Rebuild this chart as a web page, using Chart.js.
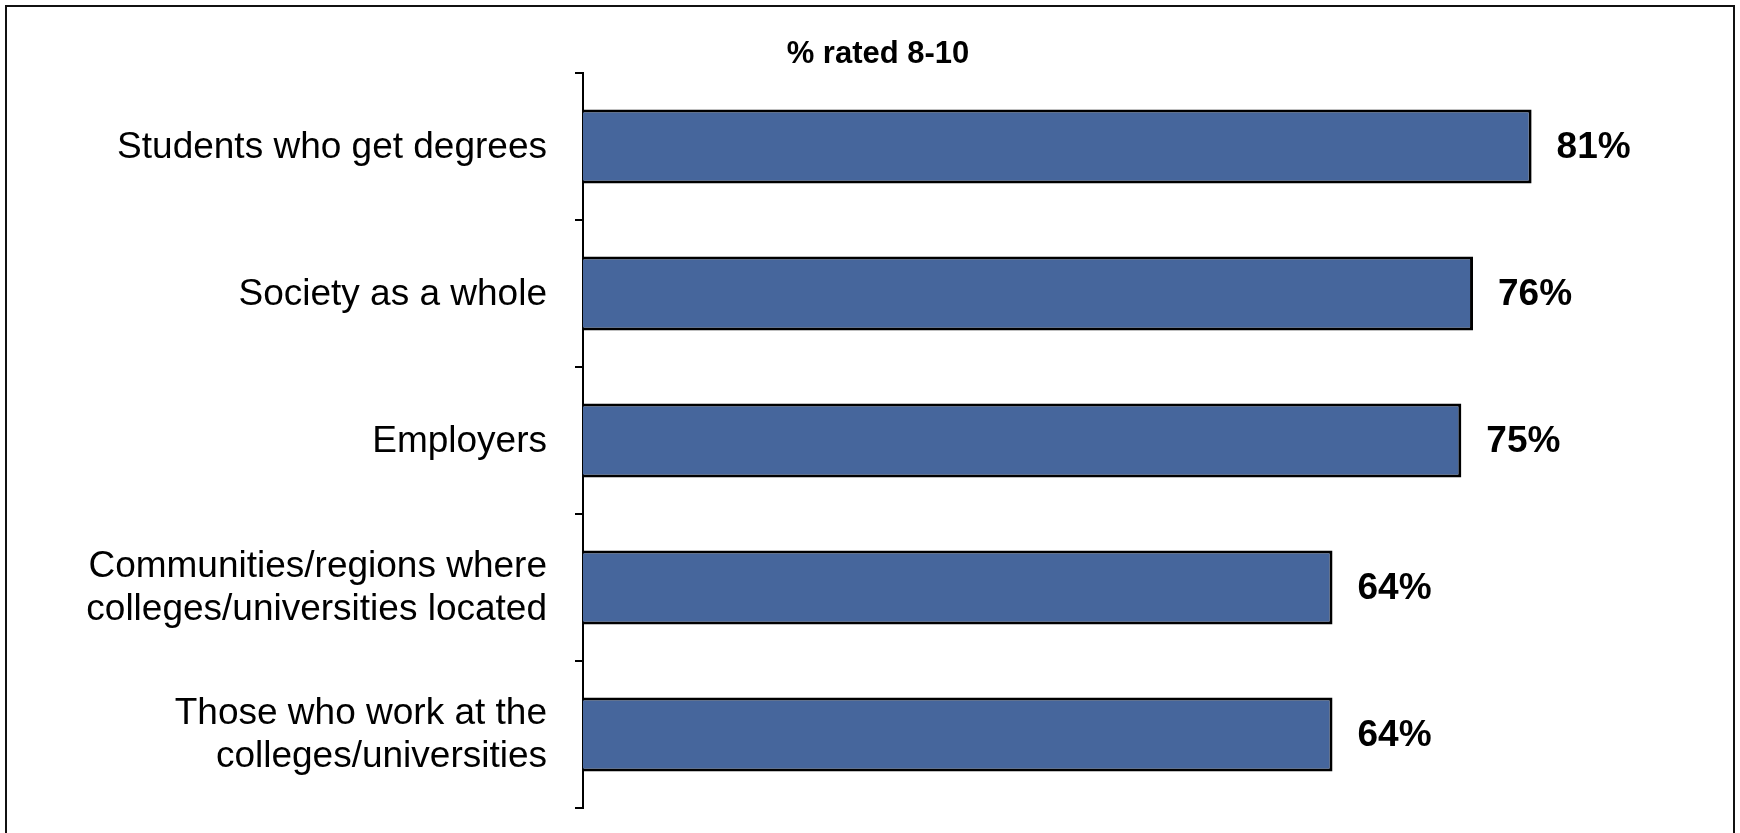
<!DOCTYPE html>
<html>
<head>
<meta charset="utf-8">
<script src="https://cdn.jsdelivr.net/npm/chart.js@4/dist/chart.umd.min.js"></script>
<style>
  html, body { margin: 0; padding: 0; background: #fff; overflow: hidden; }
  #wrap { position: relative; width: 1740px; height: 833px; }
  #frame {
    position: absolute; left: 5px; top: 5px; width: 1730px; height: 900px;
    border: 2px solid #111; box-sizing: border-box; pointer-events: none;
  }
</style>
</head>
<body>
<div id="wrap">
  <canvas id="chart" width="1740" height="833"></canvas>
  <div id="frame"></div>
</div>
<script>
// Datos del gráfico
const categories = [
    "Students who get degrees",
    "Society as a whole",
    "Employers",
    ["Communities/regions where", "colleges/universities located"],
    ["Those who work at the", "colleges/universities"],
];
const ratedValues = [81, 76, 75, 64, 64];
const chartTitle = "% rated 8-10";

const FONT = "'Liberation Sans', Arial, sans-serif";

// Título y etiquetas de valor al final de cada barra
const valueLabels = {
    id: "valueLabels",
    afterDatasetsDraw(chart) {
        const ctx = chart.ctx;
        const meta = chart.getDatasetMeta(0);
        ctx.save();
        ctx.fillStyle = "#000";
        ctx.textBaseline = "middle";

        ctx.font = "bold 31px " + FONT;
        ctx.textAlign = "center";
        ctx.fillText(chartTitle, 878, 54);

        ctx.font = "bold 37px " + FONT;
        ctx.textAlign = "left";
        meta.data.forEach((bar, i) => {
            ctx.fillText(ratedValues[i] + "%", bar.x + 25, bar.y + 1);
        });
        ctx.restore();
    },
};

new Chart(document.getElementById("chart").getContext("2d"), {
    type: "bar",
    data: {
        labels: categories,
        datasets: [{
            data: ratedValues,
            backgroundColor: "#46669C",
            borderColor: "#000",
            borderWidth: 3,
            borderSkipped: "start",
            categoryPercentage: 1,
            barPercentage: 0.505,
        }],
    },
    options: {
        indexAxis: "y",
        responsive: false,
        animation: false,
        layout: { padding: { left: 0, right: 103, top: 73, bottom: 25 } },
        plugins: {
            legend: { display: false },
            tooltip: { enabled: false },
            title: { display: false },
        },
        scales: {
            x: {
                display: false,
                min: 0,
                max: 90,
            },
            y: {
                afterFit(scale) {
                    scale.width = 583;
                    scale.paddingTop = 0;
                    scale.paddingBottom = 0;
                },
                border: { display: true, color: "#000", width: 2 },
                grid: {
                    drawOnChartArea: false,
                    drawTicks: true,
                    tickLength: 8,
                    color: "#000",
                    lineWidth: 2,
                    offset: true,
                },
                ticks: {
                    color: "#000",
                    padding: 28,
                    labelOffset: 1,
                    font: { family: FONT, size: 37, lineHeight: 1.15 },
                },
            },
        },
    },
    plugins: [valueLabels],
});
</script>
</body>
</html>
